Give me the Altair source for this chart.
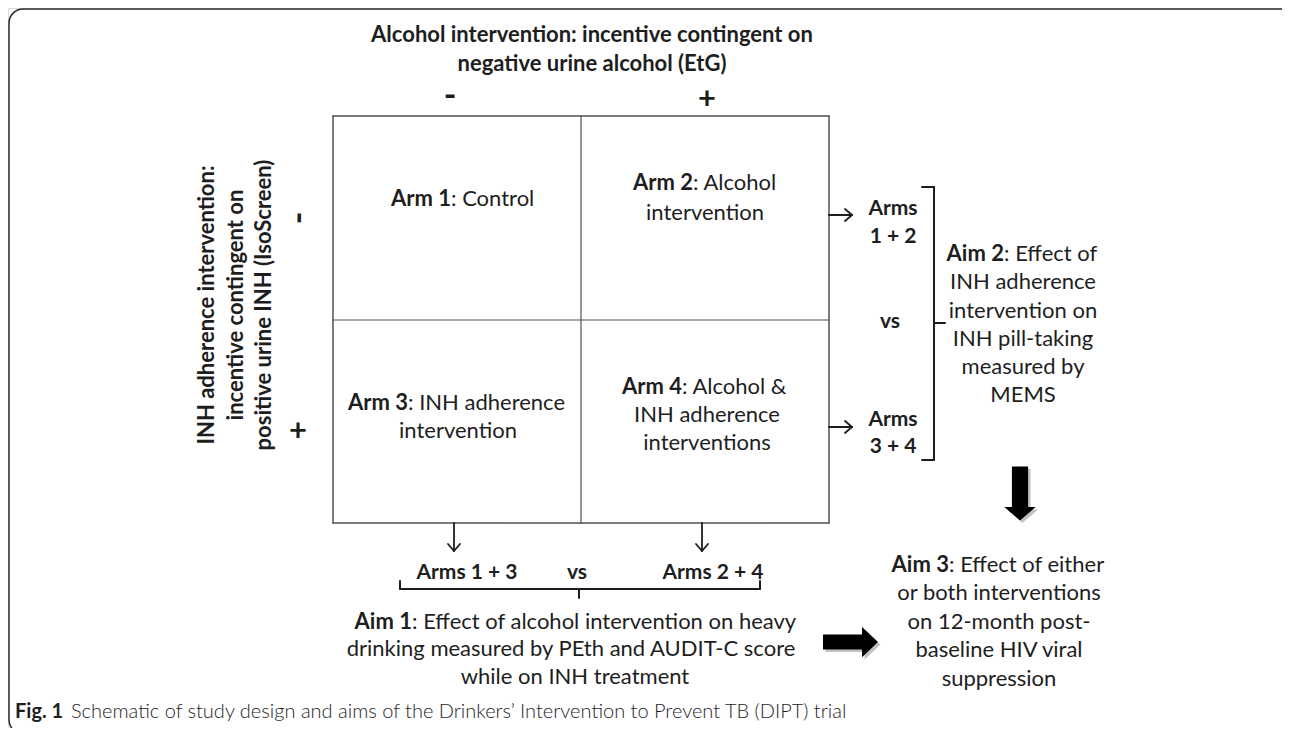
import altair as alt
import pandas as pd

# ---------------- content ----------------
TITLE_LINES = ["Alcohol intervention: incentive contingent on",
               "negative urine alcohol (EtG)"]
ROW_TITLE_LINES = ["INH adherence intervention:",
                   "incentive contingent on",
                   "positive urine INH (IsoScreen)"]
SIGNS = ["-", "+"]
ARM_LABELS = ["Arm 1", "Arm 2", "Arm 3", "Arm 4"]
ARM_FIRST = [": Control", ": Alcohol", ": INH adherence", ": Alcohol &"]
ARM_REST = [[], ["intervention"], ["intervention"],
            ["INH adherence", "interventions"]]
ROW_COMPARE = ["Arms", "1 + 2", "vs", "Arms", "3 + 4"]
COL_COMPARE = ["Arms 1 + 3", "vs", "Arms 2 + 4"]
AIM_LABELS = ["Aim 1", "Aim 2", "Aim 3"]
AIM_FIRST = [": Effect of alcohol intervention on heavy",
             ": Effect of",
             ": Effect of either"]
AIM_REST = [["drinking measured by PEth and AUDIT-C score",
             "while on INH treatment"],
            ["INH adherence", "intervention on", "INH pill-taking",
             "measured by", "MEMS"],
            ["or both interventions", "on 12-month post-",
             "baseline HIV viral", "suppression"]]
CAPTION_LABEL = "Fig. 1"
CAPTION_TEXT = "Schematic of study design and aims of the Drinkers\u2019 Intervention to Prevent TB (DIPT) trial"

# ---------------- layout (page pixel coordinates) ----------------
W, H = 1274, 720
FONT = "Lato"
INK = "#1e1e1e"
BOX = "#505050"
BOLD_SIZE = 22
REG_SIZE = 22

texts = []


def add(t, x, y, weight="normal", align="center", size=REG_SIZE, angle=0):
    texts.append(dict(text=t, x=x, y=y, weight=weight, align=align,
                      size=size, angle=angle))


# column title
for t, y in zip(TITLE_LINES, [35, 64]):
    add(t, 592, y, "bold", size=BOLD_SIZE)
add(SIGNS[0], 450, 97, "bold", size=34)
add(SIGNS[1], 707, 100, "bold", size=31)
# row title (rotated)
for t, x in zip(ROW_TITLE_LINES, [207, 236, 264]):
    add(t, x, 305, "bold", size=BOLD_SIZE, angle=270)
add(SIGNS[0], 300, 218, "bold", size=34, angle=270)
add(SIGNS[1], 298, 432, "bold", size=31)

# arms
arm_junction = [451, 693, 408, 682]
arm_center = [457, 705, 458, 707]
arm_y = [[199], [183, 213], [403, 431], [387, 415, 443]]
for i in range(4):
    ys = arm_y[i]
    add(ARM_LABELS[i], arm_junction[i], ys[0], "bold", "right")
    add(ARM_FIRST[i], arm_junction[i], ys[0], "normal", "left")
    for t, y in zip(ARM_REST[i], ys[1:]):
        add(t, arm_center[i], y)

# comparisons
for t, x, y in zip(ROW_COMPARE, [893, 893, 890, 893, 893],
                   [209, 237, 322, 420, 447]):
    add(t, x, y, "bold", size=21)
for t, x in zip(COL_COMPARE, [467, 577, 713]):
    add(t, x, 573, "bold", size=21)

# aims
aim_junction = [412, 1004, 949]
aim_center = [[571, 575], [1023] * 5, [999] * 4]
aim_y = [[622, 649, 677], [254, 282, 311, 339, 367, 395],
         [565, 593, 622, 650, 679]]
for i in range(3):
    ys = aim_y[i]
    add(AIM_LABELS[i], aim_junction[i], ys[0], "bold", "right")
    add(AIM_FIRST[i], aim_junction[i], ys[0], "normal", "left")
    for t, x, y in zip(AIM_REST[i], aim_center[i], ys[1:]):
        add(t, x, y)

# caption
add(CAPTION_LABEL, 15, 712, "bold", "left", size=20)
add(CAPTION_TEXT, 71, 712, 300, "left", size=20)

tdf = pd.DataFrame(texts)

# line segments: x, y, x2, y2, color, width
segs = []


def seg(x, y, x2, y2, color=INK, w=1.8):
    segs.append(dict(x=x, y=y, x2=x2, y2=y2, color=color, w=w))


# 2x2 grid
L, R, T, B, MX, MY = 333, 829, 116, 523, 581, 320
seg(L, T, R, T, BOX, 1.5)
seg(L, B, R, B, BOX, 1.5)
seg(L, T, L, B, BOX, 1.5)
seg(R, T, R, B, BOX, 1.5)
seg(MX, T, MX, B, BOX, 1.2)
seg(L, MY, R, MY, BOX, 1.2)
# thin arrows right
for y in [215, 427]:
    seg(R, y, 852, y)
    seg(845, y - 6, 852, y)
    seg(845, y + 6, 852, y)
# thin arrows down
for x in [454, 702]:
    seg(x, B, x, 551)
    seg(x - 6, 544, x, 551)
    seg(x + 6, 544, x, 551)
# right bracket
seg(922, 187, 934, 187, INK, 2)
seg(934, 187, 934, 460, INK, 2)
seg(922, 460, 934, 460, INK, 2)
seg(934, 323, 945, 323, INK, 2)
# bottom bracket
seg(400, 581, 400, 589, INK, 2)
seg(400, 589, 760, 589, INK, 2)
seg(760, 581, 760, 589, INK, 2)
seg(579, 589, 579, 598, INK, 2)

sdf = pd.DataFrame(segs)

xs = alt.Scale(domain=[8, 8 + W], nice=False, zero=False)
ys_ = alt.Scale(domain=[8, 8 + H], nice=False, zero=False, reverse=True)
X = lambda f="x": alt.X(f"{f}:Q", scale=xs, axis=None)
Y = lambda f="y": alt.Y(f"{f}:Q", scale=ys_, axis=None)

# outer frame
frame = alt.Chart(pd.DataFrame([dict(x=9, y=9, x2=1300, y2=734)])).mark_rect(
    fill=None, stroke="#2a2a2a", strokeWidth=1.5, cornerRadius=14
).encode(x=X(), y=Y(), x2="x2:Q", y2="y2:Q")

rules = alt.Chart(sdf).mark_rule(strokeCap="round").encode(
    x=X(), y=Y(), x2="x2:Q", y2="y2:Q",
    color=alt.Color("color:N", scale=None),
    strokeWidth=alt.StrokeWidth("w:Q", scale=None),
)

# block arrows (custom symbol paths)
down_path = "M-0.3,-1L0.3,-1L0.3,0.5L0.58,0.5L0,1L-0.58,0.5L-0.3,0.5Z"
right_path = "M-1,-0.27L0.42,-0.27L0.42,-0.55L1,0L0.42,0.55L0.42,0.27L-1,0.27Z"
arrows = []
for path, x, y, s in [(down_path, 1020, 493.5, 2916),
                      (right_path, 850.5, 642, 3025)]:
    for dx, col, op in [(2.5, "#9a9a9a", 0.6), (0, "#000000", 1.0)]:
        arrows.append(
            alt.Chart(pd.DataFrame([dict(x=x + dx, y=y + dx)])).mark_point(
                shape=path, filled=True, size=s, color=col, opacity=op,
                strokeWidth=0
            ).encode(x=X(), y=Y())
        )

text_layers = []
for (wt, al), g in tdf.groupby(["weight", "align"], sort=False):
    text_layers.append(
        alt.Chart(g).mark_text(font=FONT, fontWeight=wt, align=al,
                               baseline="middle", color=INK).encode(
            x=X(), y=Y(), text="text:N",
            size=alt.Size("size:Q", scale=None),
            angle=alt.Angle("angle:Q", scale=None),
        )
    )

chart = alt.layer(frame, rules, *arrows, *text_layers).properties(
    width=W, height=H, padding=0,
    autosize=alt.AutoSizeParams(type="none"),
).configure_view(stroke=None).configure(background="white")

chart.save("out.html", embed_options={"renderer": "svg", "actions": False})
